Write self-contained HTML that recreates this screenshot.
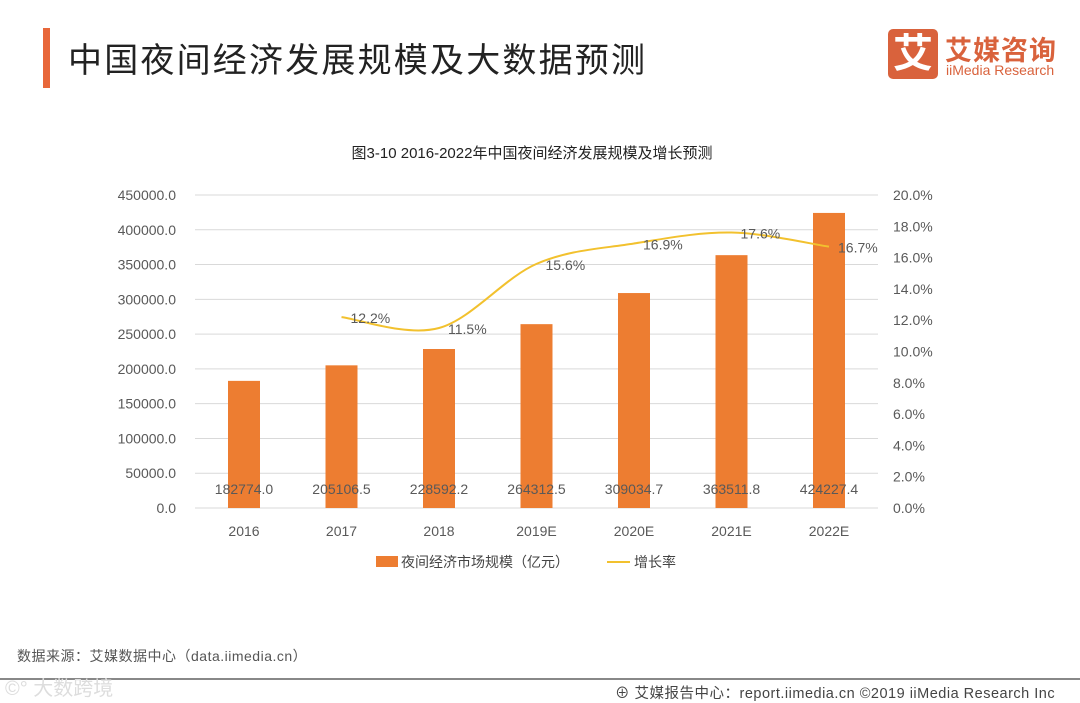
<!DOCTYPE html>
<html><head><meta charset="utf-8">
<style>
body{margin:0;width:1080px;height:703px;background:#fff;overflow:hidden;font-family:"Liberation Sans","Noto Sans CJK SC",sans-serif;position:relative}
.abs{position:absolute}
</style></head><body>
<div class="abs" style="left:43px;top:28px;width:7px;height:60px;background:#e8673a"></div>
<div class="abs" style="left:68px;top:33px;font-size:34px;color:#222;letter-spacing:2.2px">中国夜间经济发展规模及大数据预测</div>
<div class="abs" style="left:888px;top:29px;width:50px;height:50px;background:#d9623c;border-radius:5px;color:#fff;font-size:40px;font-weight:bold;text-align:center;line-height:50px">艾</div>
<div class="abs" style="left:945px;top:29px;font-size:27px;color:#d9623c;font-weight:bold;letter-spacing:1px">艾媒咨询</div>
<div class="abs" style="left:946px;top:62px;font-size:14px;color:#d9623c">iiMedia Research</div>

<svg class="abs" style="left:0;top:0" width="1080" height="703">
<text x="532" y="158" text-anchor="middle" font-size="15" fill="#222">图3-10 2016-2022年中国夜间经济发展规模及增长预测</text>
<g id="grid"></g><g id="bars"></g><g id="line"></g><g id="labels"></g>
<g>
<rect x="376" y="556" width="22" height="11" fill="#ed7d31"/>
<text x="401" y="567" font-size="14" fill="#444">夜间经济市场规模（亿元）</text>
<line x1="607" y1="562" x2="630" y2="562" stroke="#f2c12e" stroke-width="2"/>
<text x="634" y="567" font-size="14" fill="#444">增长率</text>
</g>
</svg>
<div class="abs" style="left:17px;top:646px;font-size:14px;color:#555;letter-spacing:0.5px">数据来源：艾媒数据中心（data.iimedia.cn）</div>
<div class="abs" style="left:0;top:678px;width:1080px;height:2px;background:#888"></div>
<div class="abs" style="left:5px;top:672px;font-size:20px;color:#ddd">©° 大数跨境</div>
<div class="abs" style="left:615px;top:682px;font-size:14.5px;color:#444;letter-spacing:0.5px">⊕ 艾媒报告中心：report.iimedia.cn ©2019 iiMedia Research Inc</div>
<script>
const categories=["2016","2017","2018","2019E","2020E","2021E","2022E"];
const marketSize=[182774.0,205106.5,228592.2,264312.5,309034.7,363511.8,424227.4];
const growthRate=[null,12.2,11.5,15.6,16.9,17.6,16.7];
const leftTicks=[0,50000,100000,150000,200000,250000,300000,350000,400000,450000];
const rightTicks=[0,2,4,6,8,10,12,14,16,18,20];
const NS="http://www.w3.org/2000/svg";
const y0=508,yTop=195,x0=195,step=97.5;
const yL=v=>y0-(v/450000)*(y0-yTop);
const yR=v=>y0-(v/20)*(y0-yTop);
const xC=i=>244+i*step;
function mk(tag,attrs,parent,txt){const e=document.createElementNS(NS,tag);for(const k in attrs)e.setAttribute(k,attrs[k]);if(txt!=null)e.textContent=txt;document.getElementById(parent).appendChild(e);return e;}
leftTicks.forEach(t=>{
 const g=mk("line",{x1:x0,x2:878,y1:yL(t),y2:yL(t),stroke:"#d9d9d9","stroke-width":1},"grid");
 
 
 const l=mk("text",{x:176,y:yL(t)+5,"text-anchor":"end","font-size":14,fill:"#595959"},"grid",t.toFixed(1));
 
 
});
rightTicks.forEach(t=>{
 const l=mk("text",{x:893,y:yR(t)+5,"font-size":14,fill:"#595959"},"grid",t.toFixed(1)+"%");
 
 
});
categories.forEach((c,i)=>{
 const b=mk("rect",{x:xC(i)-16,y:yL(marketSize[i]),width:32,height:y0-yL(marketSize[i]),fill:"#ed7d31"},"bars");
 
 
 const v=mk("text",{x:xC(i),y:494,"text-anchor":"middle","font-size":14,fill:"#595959"},"labels",marketSize[i].toFixed(1));
 
 
 const xl=mk("text",{x:xC(i),y:536,"text-anchor":"middle","font-size":14,fill:"#595959"},"labels",c);
 
 
});
const pts=[];growthRate.forEach((r,i)=>{if(r!=null)pts.push([xC(i),yR(r),r]);});
let d="M"+pts[0][0]+","+pts[0][1];
for(let i=0;i<pts.length-1;i++){
 const p0=pts[Math.max(i-1,0)],p1=pts[i],p2=pts[i+1],p3=pts[Math.min(i+2,pts.length-1)];
 const c1=[p1[0]+(p2[0]-p0[0])/6,p1[1]+(p2[1]-p0[1])/6],c2=[p2[0]-(p3[0]-p1[0])/6,p2[1]-(p3[1]-p1[1])/6];
 d+=" C"+c1+" "+c2+" "+p2[0]+","+p2[1];
}
const path=mk("path",{d:d,fill:"none",stroke:"#f2c12e","stroke-width":2},"line");


pts.forEach(p=>{
 const t=mk("text",{x:p[0]+9,y:p[1]+6,"font-size":14,fill:"#595959"},"labels",p[2].toFixed(1)+"%");
 
 
});
</script>
</body></html>
